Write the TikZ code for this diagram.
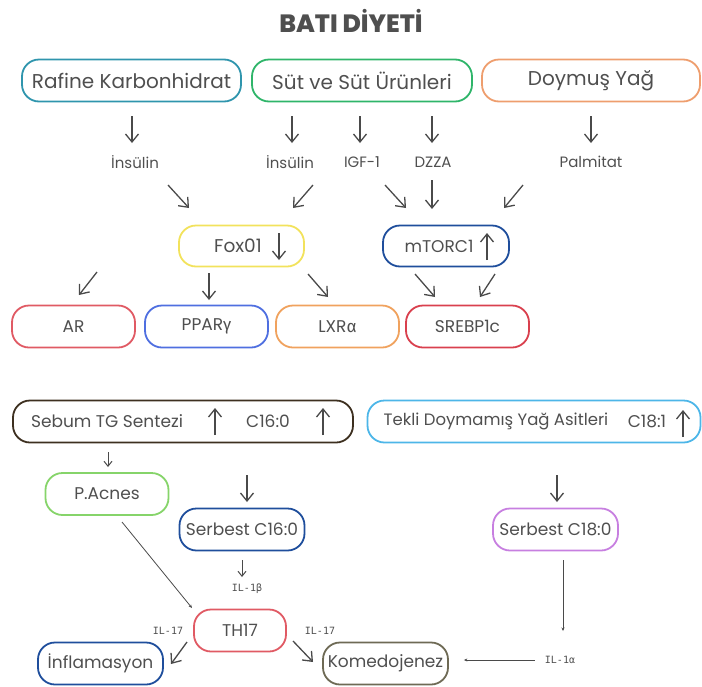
\documentclass[tikz,border=0pt]{standalone}
\usepackage{fontspec}
\setmainfont{Poppins}
\newfontfamily\grk{Fira Sans}
\newfontfamily\monofont{DejaVu Sans Mono}
\IfFontExistsTF{Poppins ExtraBold}{\newfontfamily\titlefont{Poppins ExtraBold}}{\newcommand\titlefont{\bfseries}}
\usetikzlibrary{arrows.meta}

\definecolor{txtgray}{HTML}{4F4F4F}
\definecolor{arrgray}{HTML}{4A4A4A}
\definecolor{cteal}{HTML}{2F95AD}
\definecolor{cgreen}{HTML}{2FB56A}
\definecolor{corange}{HTML}{EE9E6E}
\definecolor{cyellow}{HTML}{F2E25C}
\definecolor{cnavy}{HTML}{1F4E9C}
\definecolor{cred}{HTML}{E05A64}
\definecolor{cblue}{HTML}{4F6FE0}
\definecolor{clxr}{HTML}{F0A25E}
\definecolor{csreb}{HTML}{D9404E}
\definecolor{cbrown}{HTML}{3D3020}
\definecolor{csky}{HTML}{4DB6E8}
\definecolor{clime}{HTML}{86D46A}
\definecolor{cpurple}{HTML}{C77FE0}
\definecolor{colive}{HTML}{6E6A55}

\tikzset{
  pill/.style={draw=#1, line width=1.8pt, rounded corners=17pt, inner sep=0pt,
    minimum height=42pt, text=txtgray, font=\fontsize{17}{20}\selectfont},
  big/.style={font=\fontsize{20}{23}\selectfont},
  boxtxt/.style={inner sep=0pt, text=txtgray, font=\fontsize{17}{20}\selectfont},
  lbl/.style={inner sep=0pt, text=txtgray, font=\fontsize{15}{17}\selectfont},
  small/.style={inner sep=0pt, text=txtgray, font=\monofont\fontsize{10}{12}\selectfont},
  arr/.style={draw=arrgray, line width=1.3pt, -{Straight Barb[length=8pt,width=13pt]}},
  sarr/.style={draw=arrgray, line width=1pt, -{Straight Barb[length=5pt,width=8pt]}},
  thinarr/.style={draw=arrgray, line width=0.8pt, -{Stealth[length=3.5pt,width=3pt]}},
}

\begin{document}
\begin{tikzpicture}[x=1pt,y=1pt,yscale=-1]
\useasboundingbox (0,0) rectangle (702,686);

%Title
\node[text=txtgray, font=\titlefont\fontsize{25}{28}\selectfont] (title) at (351,21) {BATI DİYETİ};

%Diet boxes
\node[pill=cteal, big, minimum width=219pt] (raf) at (131.5,80.5) {Rafine Karbonhidrat};
\node[pill=cgreen, big, minimum width=220pt] (sut) at (362,80.5) {Süt ve Süt Ürünleri};
\node[pill=corange, big, minimum width=218pt] (doy) at (591,80.5) {Doymuş Yağ};

%Mediators
\node[lbl] (ins1) at (135,162) {İnsülin};
\node[lbl] (ins2) at (290,162) {İnsülin};
\node[lbl] (igf) at (362,162) {IGF-1};
\node[lbl] (dzza) at (433,162) {DZZA};
\node[lbl] (pal) at (591,162) {Palmitat};

%Fox01 and mTORC1
\node[pill=cyellow, minimum width=125pt, minimum height=41pt] (fox) at (241.5,246) {};
\node[boxtxt, font=\fontsize{18.5}{21}\selectfont] (foxt) at (238,246) {Fox01};
\node[pill=cnavy, minimum width=126pt, minimum height=41pt] (mtor) at (446,246) {};
\node[boxtxt] (mtort) at (439,246) {mTORC1};

%Targets
\node[pill=cred, minimum width=123pt] (ar) at (73.5,326.5) {AR};
\node[pill=cblue, minimum width=123pt] (ppar) at (206.5,326.5) {PPAR{\grk γ}};
\node[pill=clxr, minimum width=123pt] (lxr) at (337.5,326.5) {LXR{\grk α}};
\node[pill=csreb, minimum width=123pt] (sreb) at (467.5,326.5) {SREBP1c};

%Sebum and fatty acid boxes
\node[pill=cbrown, minimum width=340pt] (seb) at (183,421.5) {};
\node[boxtxt] (sebt) at (107,421) {Sebum TG Sentezi};
\node[boxtxt] (c160) at (268,421) {C16:0};
\node[pill=csky, minimum width=333pt] (tek) at (534,421.5) {};
\node[boxtxt, font=\fontsize{16.5}{19}\selectfont] (tekt) at (496,421) {Tekli Doymamış Yağ Asitleri};
\node[boxtxt] (c181) at (647,421) {C18:1};

\node[pill=clime, minimum width=123pt] (pac) at (107,494) {P.Acnes};
\node[pill=cnavy, minimum width=125pt] (sc16) at (242,529.5) {Serbest C16:0};
\node[pill=cpurple, minimum width=125pt] (sc18) at (555.5,529.5) {Serbest C18:0};
\node[small] (il1b) at (247,589) {IL-1β};

%Outcome
\node[pill=cred, minimum width=92pt] (th) at (240,630.5) {TH17};
\node[small] (il17a) at (168,631) {IL-17};
\node[small] (il17b) at (320,631) {IL-17};
\node[pill=cnavy, minimum width=125pt] (inf) at (100.5,663.5) {İnflamasyon};
\node[pill=colive, minimum width=125pt] (kom) at (385.5,663.5) {Komedojenez};
\node[small] (ila) at (560,660) {IL-1α};

%Arrow end points
\coordinate (a1) at (132,116);  \coordinate (b1) at (132,143);
\coordinate (a2) at (292,116);  \coordinate (b2) at (292,143);
\coordinate (a3) at (360,116);  \coordinate (b3) at (360,143);
\coordinate (a4) at (432,116);  \coordinate (b4) at (432,143);
\coordinate (a5) at (591,116);  \coordinate (b5) at (591,143);
\coordinate (a6) at (168,185);  \coordinate (b6) at (189,208);
\coordinate (a7) at (313,185);  \coordinate (b7) at (293,208);
\coordinate (a8) at (385,185);  \coordinate (b8) at (406,208);
\coordinate (a9) at (432,180);  \coordinate (b9) at (432,209);
\coordinate (a10) at (523,185); \coordinate (b10) at (504,208);
\coordinate (a11) at (97,272);  \coordinate (b11) at (79,295);
\coordinate (a12) at (209,273); \coordinate (b12) at (209,300);
\coordinate (a13) at (308,274); \coordinate (b13) at (328,297);
\coordinate (a14) at (415,274); \coordinate (b14) at (435,297);
\coordinate (a15) at (495,274); \coordinate (b15) at (480,297);
\coordinate (a16) at (247,475); \coordinate (b16) at (247,502);
\coordinate (a17) at (557,475); \coordinate (b17) at (557,502);
\coordinate (a18) at (187,642); \coordinate (b18) at (171,664);
\coordinate (a19) at (293,641); \coordinate (b19) at (313,662);
%in-box arrows
\coordinate (fa) at (279,233);  \coordinate (fb) at (279,260);
\coordinate (ma) at (487,260);  \coordinate (mb) at (487,233);
\coordinate (sa) at (215,435);  \coordinate (sb) at (215,408);
\coordinate (ca) at (323,435);  \coordinate (cb) at (323,408);
\coordinate (ta) at (683,437);  \coordinate (tb) at (683,410);
%small ones
\coordinate (pa) at (108,452);  \coordinate (pb) at (108,467);
\coordinate (ia) at (242,560);  \coordinate (ib) at (242,577);
\coordinate (la) at (122,522);  \coordinate (lb) at (192,608);
\coordinate (ka) at (563,560);  \coordinate (kb) at (563,631);

\foreach \n in {1,...,19} \draw[arr] (a\n) -- (b\n);
\foreach \p in {f,m,s,c,t} \draw[arr] (\p a) -- (\p b);
\draw[sarr] (pa) -- (pb);
\draw[sarr] (ia) -- (ib);
\draw[thinarr] (la) -- (lb);
\draw[thinarr] (ka) -- (kb);
\draw[thinarr, shorten <=10pt, shorten >=15pt] (ila.west) -- (kom.east |- ila.west);

\end{tikzpicture}
\end{document}
